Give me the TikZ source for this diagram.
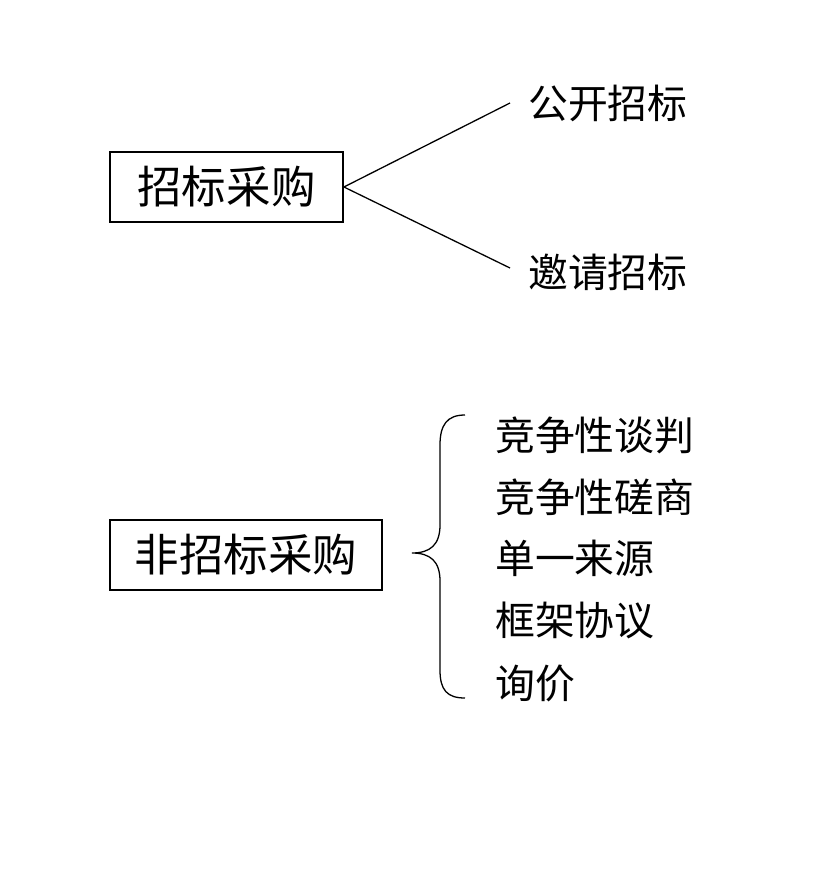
\documentclass[tikz,border=0pt]{standalone}
\usepackage{fontspec}
\newfontfamily\cjk{Noto Sans CJK SC}
\begin{document}
\begin{tikzpicture}[x=0.03cm,y=-0.03cm,
  bigbox/.style={draw,line width=1.6pt,minimum height=70*0.03cm,inner sep=0pt,font=\cjk\fontsize{38}{42}\selectfont},
  leaf/.style={anchor=west,inner sep=0pt,font=\cjk\fontsize{34}{38}\selectfont}]
\useasboundingbox[fill=white] (0,0) rectangle (828,894);
\node[bigbox,minimum width=233*0.03cm] (a) at (226.5,187) {招标采购};
\node[leaf] (a1) at (528,103) {公开招标};
\node[leaf] (a2) at (528,272) {邀请招标};
\coordinate (c1) at (510,103);
\coordinate (c2) at (510,268);
\draw[line width=1.1pt] (a.east) -- (c1);
\draw[line width=1.1pt] (a.east) -- (c2);
\node[bigbox,minimum width=272*0.03cm] (b) at (246,555) {非招标采购};
\coordinate (tip) at (412,553);
\draw[line width=1.1pt] (465,415) .. controls (447,415) and (440,425) .. (440,445) -- (440,525) .. controls (440,545) and (430,553) .. (tip) .. controls (430,553) and (440,561) .. (440,581) -- (440,670) .. controls (440,690) and (447,698) .. (465,698);
\node[leaf] (b1) at (495,435) {竞争性谈判};
\node[leaf] (b2) at (495,497) {竞争性磋商};
\node[leaf] (b3) at (495,558) {单一来源};
\node[leaf] (b4) at (495,620) {框架协议};
\node[leaf] (b5) at (495,683) {询价};
\end{tikzpicture}
\end{document}
